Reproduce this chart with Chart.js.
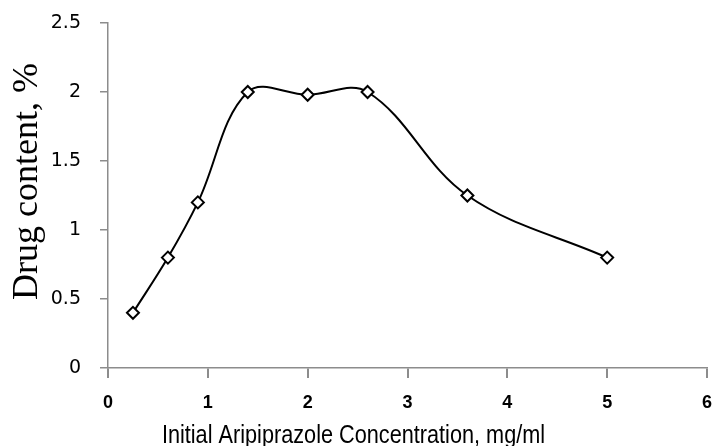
<!DOCTYPE html>
<html>
<head>
<meta charset="utf-8">
<script src="https://cdn.jsdelivr.net/npm/chart.js@4/dist/chart.umd.min.js"></script>
<style>
  html, body { margin: 0; padding: 0; background: #fff; }
  #wrap { width: 716px; height: 446px; position: relative; }
</style>
</head>
<body>
<div id="wrap"><canvas id="c" width="716" height="446"></canvas></div>
<script>
const concentrations = [0.25, 0.6, 0.9, 1.4, 2.0, 2.6, 3.6, 5.0];
const drugContent = [0.4, 0.8, 1.2, 2.0, 1.98, 2.0, 1.25, 0.8];
const xTicks = [0, 1, 2, 3, 4, 5, 6];
const yTicks = [0, 0.5, 1, 1.5, 2, 2.5];
const xTitle = 'Initial Aripiprazole Concentration, mg/ml';
const yTitle = 'Drug content, %';

const points = concentrations.map((x, i) => ({ x: x, y: drugContent[i] }));

const axisTitlePlugin = {
  id: 'axisTitlePlugin',
  afterDraw(chart) {
    const ctx = chart.ctx;
    ctx.save();
    ctx.fillStyle = '#000';
    ctx.textAlign = 'center';
    ctx.textBaseline = 'alphabetic';
    ctx.save();
    ctx.translate(37, 181.5);
    ctx.rotate(-Math.PI / 2);
    ctx.font = '36px "Liberation Serif", "Times New Roman", serif';
    ctx.fillText(yTitle, 0, 0);
    ctx.restore();
    ctx.save();
    ctx.translate(353.5, 443);
    ctx.scale(0.834, 1);
    ctx.font = '26px "Liberation Sans", Arial, sans-serif';
    ctx.fillText(xTitle, 0, 0);
    ctx.restore();
    ctx.restore();
  }
};

new Chart(document.getElementById('c'), {
  type: 'scatter',
  data: {
    datasets: [{
      data: points,
      showLine: true,
      tension: 0.37,
      borderColor: '#000',
      borderWidth: 2,
      pointStyle: 'rectRot',
      pointRadius: 6,
      pointBorderWidth: 2,
      pointBackgroundColor: '#fff',
      pointBorderColor: '#000'
    }]
  },
  options: {
    responsive: false,
    animation: false,
    devicePixelRatio: 1,
    layout: { padding: { top: 23, left: 0, right: 9, bottom: 0 } },
    plugins: {
      legend: { display: false },
      tooltip: { enabled: false },
      title: { display: false }
    },
    scales: {
      x: {
        type: 'linear',
        min: 0, max: 6,
        afterBuildTicks(axis) { axis.ticks = xTicks.map(v => ({ value: v })); },
        afterFit(axis) { axis.height = 78; axis.paddingLeft = 0; axis.paddingRight = 0; },
        grid: { drawOnChartArea: false, drawTicks: true, tickLength: 10, color: '#8c8c8c', lineWidth: 2 },
        border: { color: '#8c8c8c', width: 1.5 },
        ticks: {
          color: '#000',
          padding: 14,
          callback: v => String(v),
          font: { family: '"Liberation Sans", Arial, sans-serif', size: 18, weight: 'bold' }
        }
      },
      y: {
        type: 'linear',
        min: 0, max: 2.5,
        afterBuildTicks(axis) { axis.ticks = yTicks.map(v => ({ value: v })); },
        afterFit(axis) { axis.width = 108; axis.paddingTop = 0; axis.paddingBottom = 0; },
        grid: { drawOnChartArea: false, drawTicks: true, tickLength: 8, color: '#8c8c8c', lineWidth: 1.5 },
        border: { color: '#8c8c8c', width: 1.5 },
        ticks: {
          color: '#000',
          padding: 19,
          callback: v => String(v),
          font: { family: '"DejaVu Sans", sans-serif', size: 19 }
        }
      }
    }
  },
  plugins: [axisTitlePlugin]
});
</script>
</body>
</html>
